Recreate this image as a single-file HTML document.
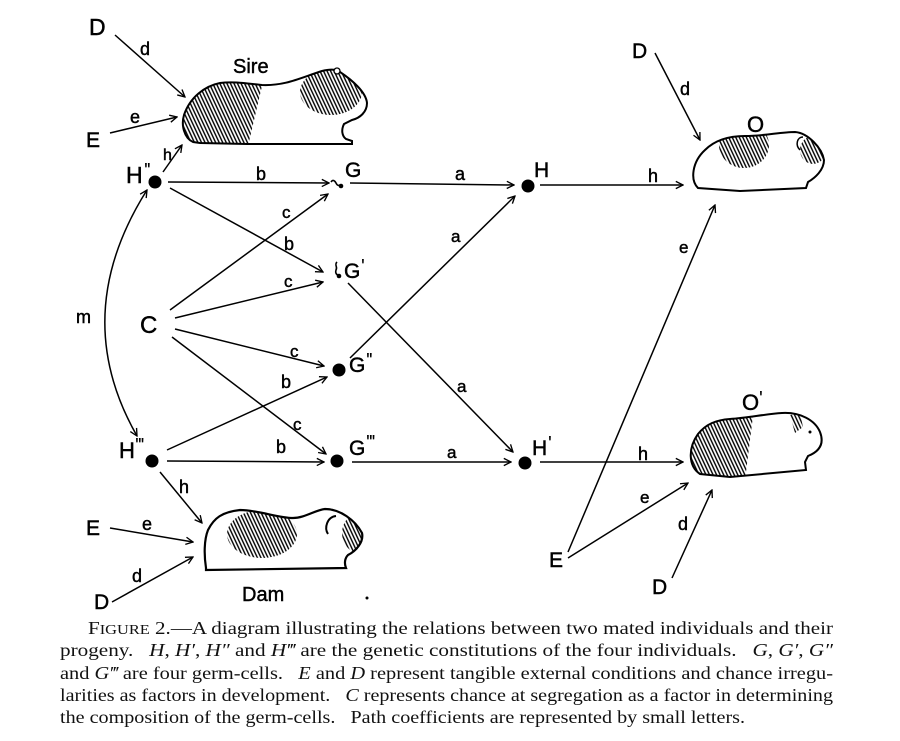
<!DOCTYPE html>
<html><head><meta charset="utf-8"><style>
html,body{margin:0;padding:0;background:#fff;width:900px;height:741px;overflow:hidden}
svg{display:block}
.l{font-family:"Liberation Sans",sans-serif;fill:#000;stroke:#000;stroke-width:0.45}
.p{font-family:"Liberation Sans",sans-serif;fill:#000;font-size:20px;letter-spacing:-1px}
.cap{font-family:"Liberation Serif","DejaVu Serif",serif;font-size:18px;fill:#111;white-space:pre}
</style></head><body>
<svg width="900" height="741" viewBox="0 0 900 741" xmlns="http://www.w3.org/2000/svg">
<defs>
<marker id="ar" viewBox="0 0 10 10" refX="9" refY="5" markerWidth="9" markerHeight="9" markerUnits="userSpaceOnUse" orient="auto-start-reverse"><path d="M1,1 L9,5 L1,9" fill="none" stroke="#000" stroke-width="1.5"/></marker>
<pattern id="hatch" patternUnits="userSpaceOnUse" width="3.2" height="10" patternTransform="rotate(-25)"><line x1="0.8" y1="0" x2="0.8" y2="10" stroke="#000" stroke-width="1.4"/></pattern>
<clipPath id="cSire"><path d="M193,142 C184,138 181,125 184,115 C190,97 205,86 220,83 C235,81 250,84 262,85 C285,86 300,78 322,71 C330,69 336,69 340,72 C352,80 366,92 367,103 C367,112 360,118 352,120 L344,124 C341,130 342,136 346,139 L352,141 L352,144 L247,144 L200,143 Z"/></clipPath>
<clipPath id="cDam"><path d="M206,568 C204,555 204,540 208,530 C214,518 222,512 240,510 C258,510 278,518 293,518 C305,518 315,510 325,509 C340,509 355,520 362,533 C364,542 356,551 348,555 C345,558 344,563 346,568 L206,570 Z"/></clipPath>
<clipPath id="cO"><path d="M698,188 C690,180 692,162 705,150 C715,140 728,136 745,136 C765,136 780,132 795,132 C808,133 822,148 824,160 C824,170 815,178 808,182 L806,188 L740,191 Z"/></clipPath>
<clipPath id="cO2"><path d="M700,474 C688,466 688,448 698,434 C706,424 716,420 730,419 C748,418 765,414 782,413 C800,412 815,420 820,432 C825,445 818,452 808,456 L805,462 L806,470 L730,477 Z"/></clipPath>
</defs>

<!-- Sire -->
<g clip-path="url(#cSire)">
<polygon points="170,60 262,60 262,86 248,146 170,146" fill="url(#hatch)"/>
<ellipse cx="331" cy="92" rx="31" ry="23" fill="url(#hatch)"/>
</g>
<path d="M193,142 C184,138 181,125 184,115 C190,97 205,86 220,83 C235,81 250,84 262,85 C285,86 300,78 322,71 C330,69 336,69 340,72 C352,80 366,92 367,103 C367,112 360,118 352,120 L344,124 C341,130 342,136 346,139 L352,141 L352,144 L247,144 L200,143 Z" fill="none" stroke="#000" stroke-width="2"/>
<circle cx="337" cy="71" r="3" fill="#fff" stroke="#000" stroke-width="1.3"/>

<!-- Dam -->
<g clip-path="url(#cDam)">
<ellipse cx="262" cy="534" rx="35" ry="24" fill="url(#hatch)"/>
<ellipse cx="364" cy="533" rx="22" ry="22" fill="url(#hatch)"/>
</g>
<path d="M206,568 C204,555 204,540 208,530 C214,518 222,512 240,510 C258,510 278,518 293,518 C305,518 315,510 325,509 C340,509 355,520 362,533 C364,542 356,551 348,555 C345,558 344,563 346,568 L206,570 Z" fill="none" stroke="#000" stroke-width="2.2"/>
<path d="M328,534 C324,528 327,517 336,516" fill="none" stroke="#000" stroke-width="2"/>

<!-- O -->
<g clip-path="url(#cO)">
<ellipse cx="744" cy="145" rx="25" ry="23" fill="url(#hatch)"/>
<ellipse cx="813" cy="150" rx="13" ry="14" fill="url(#hatch)"/>
</g>
<path d="M698,188 C690,180 692,162 705,150 C715,140 728,136 745,136 C765,136 780,132 795,132 C808,133 822,148 824,160 C824,170 815,178 808,182 L806,188 L740,191 Z" fill="none" stroke="#000" stroke-width="2"/>
<path d="M800,150 C795,145 797,137 803,137" fill="none" stroke="#000" stroke-width="1.5"/>

<!-- O' -->
<g clip-path="url(#cO2)">
<polygon points="680,400 755,400 745,480 680,480" fill="url(#hatch)"/>
<polygon points="790,415 800,413 803,427 795,433" fill="url(#hatch)"/>
</g>
<path d="M700,474 C688,466 688,448 698,434 C706,424 716,420 730,419 C748,418 765,414 782,413 C800,412 815,420 820,432 C825,445 818,452 808,456 L805,462 L806,470 L730,477 Z" fill="none" stroke="#000" stroke-width="2"/>
<circle cx="810" cy="432" r="1.5" fill="#000"/>

<!-- connectors -->
<g stroke="#000" stroke-width="1.5" fill="none" marker-end="url(#ar)">
<line x1="115" y1="35" x2="185" y2="97"/>
<line x1="110" y1="133" x2="177" y2="117"/>
<line x1="163" y1="172" x2="182" y2="145"/>
<line x1="168" y1="182" x2="329" y2="183"/>
<line x1="170" y1="188" x2="323" y2="272"/>
<line x1="170" y1="310" x2="328" y2="194"/>
<line x1="175" y1="318" x2="323" y2="282"/>
<line x1="175" y1="329" x2="324" y2="366"/>
<line x1="172" y1="337" x2="326" y2="454"/>
<line x1="167" y1="450" x2="327" y2="377"/>
<line x1="167" y1="461" x2="324" y2="462"/>
<line x1="160" y1="472" x2="202" y2="523"/>
<line x1="110" y1="528" x2="193" y2="542"/>
<line x1="112" y1="602" x2="193" y2="557"/>
<line x1="350" y1="183" x2="514" y2="185"/>
<line x1="350" y1="358" x2="515" y2="196"/>
<line x1="348" y1="283" x2="513" y2="452"/>
<line x1="352" y1="462" x2="511" y2="462"/>
<line x1="540" y1="185" x2="683" y2="185"/>
<line x1="540" y1="462" x2="683" y2="462"/>
<line x1="655" y1="53" x2="700" y2="140"/>
<line x1="568" y1="552" x2="715" y2="205"/>
<line x1="568" y1="558" x2="688" y2="483"/>
<line x1="672" y1="578" x2="712" y2="490"/>
<path d="M147,190 Q68,315 137,436" marker-start="url(#ar)"/>
</g>

<!-- nodes -->
<g fill="#000">
<circle cx="155" cy="182" r="6.5"/>
<circle cx="152" cy="461" r="6.5"/>
<circle cx="339" cy="370" r="6.5"/>
<circle cx="337" cy="461" r="6.5"/>
<circle cx="528" cy="186" r="6.5"/>
<circle cx="525" cy="463" r="6.5"/>
<circle cx="341" cy="186" r="2.3"/>
<circle cx="339" cy="276" r="2.3"/>
<circle cx="367" cy="598" r="1.5"/>
</g>
<path d="M331,182 c2,-3 4,-1 5,1 c1,2 2,3 4,2" fill="none" stroke="#000" stroke-width="1.6"/>
<path d="M337,262 c-3,3 1,5 -1,8 c-1,3 1,5 3,6" fill="none" stroke="#000" stroke-width="1.6"/>

<!-- labels -->
<g class="l">
<text x="89" y="35" font-size="23">D</text>
<text x="140" y="55" font-size="18">d</text>
<text x="233" y="73" font-size="20">Sire</text>
<text x="86" y="147" font-size="21">E</text>
<text x="130" y="123" font-size="18">e</text>
<text x="163" y="160" font-size="16">h</text>
<text x="126" y="183" font-size="23">H</text>
<text x="256" y="180" font-size="18">b</text>
<text x="345" y="177" font-size="21">G</text>
<text x="455" y="180" font-size="18">a</text>
<text x="534" y="177" font-size="21">H</text>
<text x="648" y="182" font-size="18">h</text>
<text x="632" y="58" font-size="21">D</text>
<text x="680" y="95" font-size="18">d</text>
<text x="747" y="132" font-size="22">O</text>
<text x="282" y="218" font-size="17">c</text>
<text x="284" y="250" font-size="18">b</text>
<text x="451" y="242" font-size="17">a</text>
<text x="679" y="253" font-size="17">e</text>
<text x="284" y="287" font-size="17">c</text>
<text x="344" y="278" font-size="21">G</text>
<text x="76" y="323" font-size="18">m</text>
<text x="140" y="333" font-size="24">C</text>
<text x="290" y="357" font-size="17">c</text>
<text x="349" y="372" font-size="21">G</text>
<text x="281" y="388" font-size="18">b</text>
<text x="457" y="392" font-size="17">a</text>
<text x="742" y="410" font-size="22">O</text>
<text x="293" y="430" font-size="17">c</text>
<text x="119" y="458" font-size="22">H</text>
<text x="276" y="453" font-size="18">b</text>
<text x="349" y="455" font-size="21">G</text>
<text x="447" y="458" font-size="17">a</text>
<text x="532" y="455" font-size="21">H</text>
<text x="638" y="460" font-size="18">h</text>
<text x="179" y="493" font-size="18">h</text>
<text x="640" y="503" font-size="17">e</text>
<text x="86" y="535" font-size="21">E</text>
<text x="142" y="530" font-size="18">e</text>
<text x="678" y="530" font-size="18">d</text>
<text x="549" y="567" font-size="21">E</text>
<text x="132" y="582" font-size="18">d</text>
<text x="242" y="601" font-size="20">Dam</text>
<text x="94" y="609" font-size="21">D</text>
<text x="652" y="594" font-size="21">D</text>
</g>
<!-- primes -->
<g class="p">
<text x="144" y="177">''</text>
<text x="361" y="273">'</text>
<text x="366" y="367">''</text>
<text x="759" y="405">'</text>
<text x="135" y="452">'''</text>
<text x="366" y="449">'''</text>
<text x="548" y="450">'</text>
</g>

<!-- caption -->
<text class="cap" x="88" y="634" textLength="745" lengthAdjust="spacingAndGlyphs">F<tspan font-size="14">IGURE</tspan> 2.—A diagram illustrating the relations between two mated individuals and their</text>
<text class="cap" x="60" y="656" textLength="773" lengthAdjust="spacingAndGlyphs">progeny.   <tspan font-style="italic">H</tspan>, <tspan font-style="italic">H′</tspan>, <tspan font-style="italic">H″</tspan> and <tspan font-style="italic">H‴</tspan> are the genetic constitutions of the four individuals.   <tspan font-style="italic">G</tspan>, <tspan font-style="italic">G′</tspan>, <tspan font-style="italic">G″</tspan></text>
<text class="cap" x="60" y="679" textLength="773" lengthAdjust="spacingAndGlyphs">and <tspan font-style="italic">G‴</tspan> are four germ-cells.   <tspan font-style="italic">E</tspan> and <tspan font-style="italic">D</tspan> represent tangible external conditions and chance irregu-</text>
<text class="cap" x="60" y="701" textLength="773" lengthAdjust="spacingAndGlyphs">larities as factors in development.   <tspan font-style="italic">C</tspan> represents chance at segregation as a factor in determining</text>
<text class="cap" x="60" y="723" textLength="685" lengthAdjust="spacingAndGlyphs">the composition of the germ-cells.   Path coefficients are represented by small letters.</text>
</svg>
</body></html>
